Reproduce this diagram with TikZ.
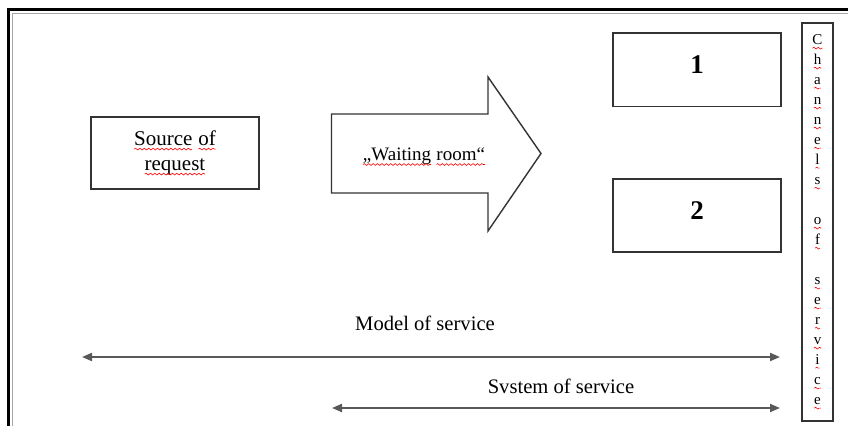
\documentclass[tikz,border=0pt]{standalone}
\usepackage{fontspec}
\setmainfont{Liberation Serif}
\usepackage{xcolor}
\usetikzlibrary{arrows.meta, decorations.pathmorphing}

% red wavy underline for the flagged words
\newcommand{\redwave}[1]{\tikz[baseline=(w.base)]{\node[draw=none, inner sep=0pt, outer sep=0pt, minimum width=0pt, minimum height=0pt, text depth=, text height=, font=] (w) {#1};
  \draw[red, line width=0.3pt, decorate, decoration={snake, amplitude=0.45pt, segment length=2.2pt}] ([yshift=-1.8pt]w.base west) -- ([yshift=-1.8pt]w.base east);}}

\begin{document}
\begin{tikzpicture}[x=0.5pt, y=-0.5pt,
  box/.style={draw=black!80, line width=0.7pt, inner sep=0pt},
  span/.style={{Triangle[length=5pt,width=4pt]}-{Triangle[length=5pt,width=4pt]}, draw=black!65, line width=1pt},
  label/.style={font=\fontsize{10.3}{12.5}\selectfont}]
\useasboundingbox (0,0) rectangle (848,426);

% Frame
\draw[line width=1.5pt] (8.5,440) -- (8.5,9.5) -- (860,9.5);
\draw[black!35, line width=0.4pt] (12.5,440) -- (12.5,13.5) -- (860,13.5);

% Nodes
\node[box, minimum width=84pt, minimum height=36pt, align=center, font=\fontsize{10.5}{12.5}\selectfont] (source) at (175,153) {\redwave{Source} \redwave{of}\\\redwave{request}};

\draw[black!80, line width=0.7pt] (331.5,114) -- (488,114) -- (488,77) -- (541,153.5) -- (488,231) -- (488,193) -- (331.5,193) -- cycle;
\node[font=\fontsize{9.5}{12}\selectfont] (waiting) at (424,157) {\redwave{„Waiting} \redwave{room“}};

\node[box, minimum width=84pt, minimum height=36.8pt, text depth=5pt, font=\fontsize{13.5}{15}\selectfont\bfseries] (chan1) at (697,70) {1};
\node[box, minimum width=84pt, minimum height=36.5pt, text depth=5pt, font=\fontsize{13.5}{15}\selectfont\bfseries] (chan2) at (697,215.5) {2};

\node[box, minimum width=15.5pt, minimum height=199pt, align=center, font=\fontsize{7.5}{10}\selectfont] (channels) at (817.5,222)
  {\redwave{C}\\\redwave{h}\\\redwave{a}\\\redwave{n}\\\redwave{n}\\\redwave{e}\\\redwave{l}\\\redwave{s}\\~\\\redwave{o}\\\redwave{f}\\~\\\redwave{s}\\\redwave{e}\\\redwave{r}\\\redwave{v}\\\redwave{i}\\\redwave{c}\\\redwave{e}};

\node[label] (model) at (425,323) {Model of service};
\coordinate (modelL) at (82,357);
\coordinate (modelR) at (780,357);

\node[label] (system) at (561,386) {Svstem of service};
\coordinate (systemL) at (332,408);
\coordinate (systemR) at (780,408);

% Edges
\draw[span] (modelL) -- (modelR);
\draw[span] (systemL) -- (systemR);

\end{tikzpicture}
\end{document}
